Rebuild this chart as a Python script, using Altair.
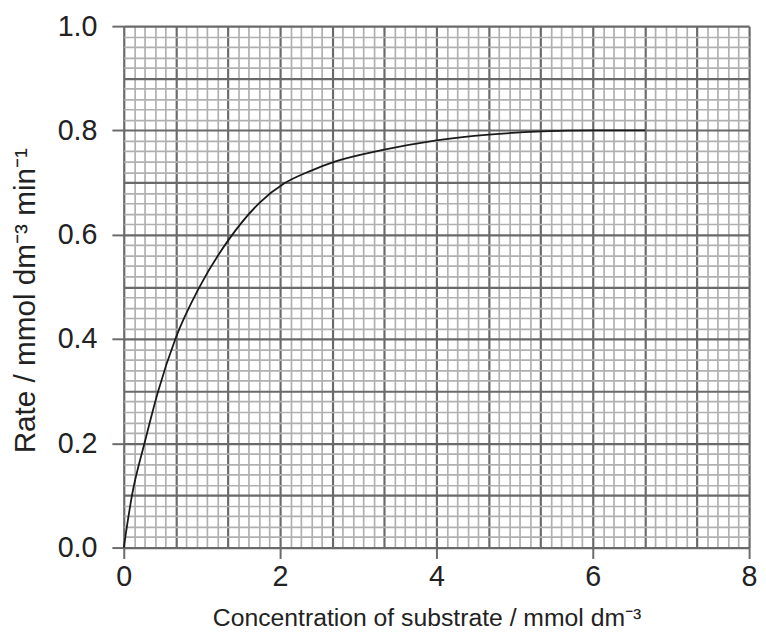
import altair as alt
import pandas as pd

# curve
conc = [0, 0.105, 0.265, 0.44, 0.66, 0.97, 1.35, 1.75, 2.05, 2.4, 2.7, 3.3, 4.0, 4.67, 5.35, 6.0, 6.67]
rate = [0, 0.1, 0.2, 0.3, 0.4, 0.5, 0.592, 0.663, 0.698, 0.723, 0.740, 0.762, 0.781, 0.792, 0.798, 0.80, 0.80]

x_ticks = [0, 2, 4, 6, 8]
y_ticks = [0.0, 0.2, 0.4, 0.6, 0.8, 1.0]
# graph-paper divisions
x_grid = [round(i * 8 / 60, 6) for i in range(61)]
y_grid = [round(i * 0.02, 6) for i in range(51)]

df = pd.DataFrame({"conc": conc, "rate": rate})

FONT = "Liberation Sans, Arial, sans-serif"
MINOR = "#b0b0b0"
MAJOR = "#6a6a6a"

x_major_test = "abs(datum.value*1.5 - round(datum.value*1.5)) < 0.0001"
x_label_test = "abs(datum.value/2 - round(datum.value/2)) < 0.0001"
y_major_test = "abs(datum.value*10 - round(datum.value*10)) < 0.0001"
y_label_test = "abs(datum.value*5 - round(datum.value*5)) < 0.0001"

x_axis = alt.Axis(
    values=x_grid,
    grid=True,
    gridColor=alt.condition(x_major_test, alt.value(MAJOR), alt.value(MINOR)),
    gridWidth=alt.condition(x_major_test, alt.value(2.2), alt.value(1.7)),
    domain=False,
    tickColor=MAJOR,
    tickWidth=2,
    tickSize=11,
    tickOpacity=alt.condition(x_label_test, alt.value(1), alt.value(0)),
    labelExpr=f"{x_label_test} ? format(datum.value, 'd') : ''",
    labelOverlap=False,
    labelFlush=False,
    labelFont=FONT,
    labelFontSize=29,
    labelColor="#222222",
    labelPadding=4,
    title="Concentration of substrate / mmol dm⁻³",
    titleFont=FONT,
    titleFontSize=25,
    titleFontWeight="normal",
    titleColor="#222222",
    titleX=306,
    titleY=79,
    titleAlign="center",
    titleBaseline="alphabetic",
)

y_axis = alt.Axis(
    values=y_grid,
    grid=True,
    gridColor=alt.condition(y_major_test, alt.value(MAJOR), alt.value(MINOR)),
    gridWidth=alt.condition(y_major_test, alt.value(2.2), alt.value(1.7)),
    domain=False,
    tickColor=MAJOR,
    tickWidth=2,
    tickSize=12,
    tickOpacity=alt.condition(y_label_test, alt.value(1), alt.value(0)),
    labelExpr=f"{y_label_test} ? format(datum.value, '.1f') : ''",
    labelOverlap=False,
    labelFlush=False,
    labelFont=FONT,
    labelFontSize=29,
    labelColor="#222222",
    labelPadding=15,
    title="Rate / mmol dm⁻³ min⁻¹",
    titleFont=FONT,
    titleFontSize=30,
    titleFontWeight="normal",
    titleColor="#222222",
    titleX=-90,
    titleY=277,
    titleAngle=-90,
    titleAlign="center",
    titleBaseline="alphabetic",
)

chart = (
    alt.Chart(df)
    .mark_line(color="#1a1a1a", strokeWidth=1.8, interpolate="monotone")
    .encode(
        x=alt.X("conc:Q", scale=alt.Scale(domain=[0, 8], nice=False), axis=x_axis),
        y=alt.Y("rate:Q", scale=alt.Scale(domain=[0, 1], nice=False), axis=y_axis),
    )
    .properties(
        width=632,
        height=527,
        autosize=alt.AutoSizeParams(type="none"),
        padding={"left": 117, "top": 15, "right": 9, "bottom": 82},
    )
    .configure_view(stroke=None)
    .configure(background="white")
)

chart.save("out.html", embed_options={"renderer": "svg", "actions": False})
